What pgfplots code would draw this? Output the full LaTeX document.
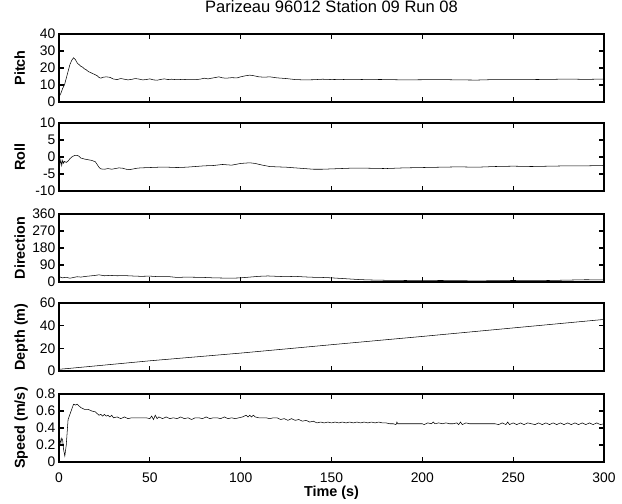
\documentclass[border=0pt]{standalone}
\usepackage{pgfplots}
\pgfplotsset{compat=1.18}
\usepackage{fontspec}
\setmainfont{Liberation Sans}

% one panel of the stack, MATLAB look
\pgfplotsset{
  panel/.style={
    scale only axis,
    width=408.75pt, height=51pt,
    anchor=south west,
    xmin=0, xmax=300,
    enlargelimits=false,
    xtick={0,50,100,150,200,250,300},
    tick align=inside,
    major tick length=4pt,
    axis line style={line width=0.9pt},
    every tick/.style={black, line width=0.9pt},
    tick label style={font=\fontsize{10.4}{12}\selectfont},
    /pgf/number format/assume math mode=true,
    yticklabel style={anchor=east, inner sep=0pt, xshift=-2.5pt},
    xticklabel style={anchor=base, yshift=-15pt},
    ylabel style={at={(axis description cs:-0.0624,0.5)}, anchor=base,
      font=\bfseries\fontsize{10.8}{12}\selectfont},
    xlabel style={at={(axis description cs:0.5,0)}, anchor=base, yshift=-26pt,
      font=\bfseries\fontsize{10.8}{12}\selectfont},
    cycle list={{black, line width=0.75pt, no markers}},
  },
  nox/.style={xticklabels={}},
}

\begin{document}
\begin{tikzpicture}
\useasboundingbox (0,0) rectangle (466.5pt,378pt);

% Pitch
\begin{axis}[panel, nox, at={(44.25pt,301.5pt)},
  ymin=0, ymax=40, ytick={0,10,20,30,40}, ylabel={Pitch},
  title={Parizeau 96012 Station 09 Run 08},
  title style={at={(axis description cs:0.5,1)}, anchor=base, yshift=10pt,
    font=\fontsize{12.4}{14}\selectfont}]
\addplot coordinates {
(0,3) (1,5) (2,8) (3,10) (4,14) (5,18) (6,22) (7,24.5) (8,26) (9,25) (10,23)
(11,22) (12,21) (13,20.5) (14,19.5) (15,19) (16,18) (17,17.5) (18,17) (19,16.5)
(20,16) (21,15.5) (22,14.5) (23,14) (24,14.5) (26,14.8) (28,14.5) (30,13.5)
(32,13.2) (34,13.8) (36,13.4) (38,13) (40,13.3) (42,13.8) (44,13.5) (46,13)
(48,13.2) (50,13.6) (52,13) (54,12.8) (56,13.3) (58,13.6) (60,13.2) (62,13.4)
(65,13.1) (68,13.3) (70,13.2) (75,13.1) (78,13.5) (80,14) (82,13.6) (85,14.2)
(88,14.8) (90,14.2) (92,14) (95,14.3) (98,14.2) (100,14.8) (103,15.5) (105,15.8)
(107,15.5) (110,14.8) (113,14.6) (116,14.8) (120,14.2) (125,13.8) (130,13.2)
(135,13) (140,13.1) (145,13.4) (150,13.2) (155,13.3) (160,13.1) (170,13.3)
(180,13.2) (190,13) (200,13.1) (210,13.2) (220,13) (230,12.9) (240,13.2)
(250,13.1) (260,13.2) (270,13.3) (280,13.5) (290,13.3) (300,13.5)
};
\end{axis}

% Roll
\begin{axis}[panel, nox, at={(44.25pt,234.75pt)},
  ymin=-10, ymax=10, ytick={-10,-5,0,5,10}, ylabel={Roll}]
\addplot coordinates {
(0,-1) (0.5,-2.2) (1,-0.8) (1.5,-2.5) (2,-1) (2.5,-1.8) (3,-1.3) (4,-1.6)
(5,-1.2) (6,-0.5) (7,0) (8,0.3) (9,0.5) (10,0.5) (11,0.2) (12,-0.3) (14,-0.6)
(16,-0.8) (18,-1) (20,-1.4) (21,-2.2) (22,-3) (23,-3.5) (25,-3.6) (27,-3.4)
(29,-3.6) (31,-3.4) (33,-3.2) (35,-3.3) (37,-3.6) (39,-3.7) (41,-3.5) (43,-3.3)
(45,-3.2) (50,-3.1) (55,-3.0) (60,-3.0) (65,-3.1) (70,-3.0) (75,-2.8) (80,-2.6)
(85,-2.5) (90,-2.2) (95,-2.4) (100,-1.9) (105,-1.7) (108,-1.9) (112,-2.4)
(116,-2.8) (120,-2.9) (125,-3.0) (130,-3.2) (135,-3.4) (140,-3.6) (145,-3.6)
(150,-3.5) (160,-3.3) (170,-3.3) (180,-3.4) (190,-3.2) (200,-3.1) (210,-3.0)
(220,-2.9) (230,-3.0) (240,-2.8) (250,-2.7) (260,-2.8) (270,-2.7) (280,-2.6)
(290,-2.6) (300,-2.5)
};
\end{axis}

% Direction
\begin{axis}[panel, nox, at={(44.25pt,166.5pt)},
  ymin=0, ymax=360, ytick={0,90,180,270,360}, ylabel={Direction}]
\addplot coordinates {
(0,28) (2,22) (4,25) (6,20) (8,24) (10,28) (12,26) (15,30) (18,33) (20,35)
(22,38) (25,33) (28,35) (32,33) (36,34) (40,32) (45,30) (50,31) (55,28) (60,29)
(65,24) (70,26) (75,25) (80,24) (85,22) (90,21) (95,20) (100,22) (105,26)
(110,30) (115,32) (120,30) (125,28) (130,30) (135,27) (140,25) (145,24)
(150,22) (155,19) (160,16) (165,13) (170,11) (175,10) (180,9) (190,8) (200,7)
(210,8) (220,7) (230,6) (240,7) (250,8) (260,7) (270,8) (280,10) (290,12)
(300,11)
};
\end{axis}

% Depth
\begin{axis}[panel, nox, at={(44.25pt,99.75pt)},
  ymin=0, ymax=60, ytick={0,20,40,60}, ylabel={Depth (m)}]
\addplot coordinates {
(0,1.5) (2,1.8) (5,2.2) (50,9) (100,15.8) (150,23.2) (200,30.5) (250,38) (300,45.5)
};
\end{axis}

% Speed
\begin{axis}[panel, at={(44.25pt,31.5pt)},
  ymin=0, ymax=0.8, ytick={0,0.2,0.4,0.6,0.8}, ylabel={Speed (m/s)},
  xlabel={Time (s)}]
\addplot coordinates {
(0,0.24) (0.5,0.27) (1,0.22) (1.5,0.28) (2,0.26) (2.5,0.15) (3.2,0.07) (4,0.2)
(5,0.5) (6,0.56) (7,0.62) (8,0.68) (9,0.67) (10,0.68) (11,0.66) (12,0.64)
(13,0.63) (14,0.62) (16,0.62) (18,0.6) (20,0.59) (21,0.57) (22,0.55) (23,0.56)
(24,0.54) (25,0.56) (26,0.54) (27,0.55) (28,0.53) (29,0.55) (30,0.52) (32,0.53)
(34,0.51) (36,0.53) (38,0.51) (40,0.52) (42,0.52) (44,0.52) (46,0.52) (48,0.52)
(50,0.51) (51,0.54) (52,0.5) (53,0.55) (54,0.51) (55,0.53) (57,0.51) (59,0.53)
(61,0.51) (63,0.52) (65,0.51) (67,0.53) (69,0.51) (71,0.52) (73,0.5) (75,0.52)
(77,0.52) (79,0.51) (81,0.53) (83,0.51) (85,0.52) (87,0.52) (89,0.51) (91,0.53)
(93,0.51) (95,0.52) (97,0.51) (99,0.52) (101,0.53) (103,0.55) (104,0.53)
(105,0.55) (106,0.53) (107,0.55) (108,0.53) (110,0.52) (112,0.52) (114,0.52)
(116,0.51) (118,0.52) (120,0.52) (122,0.5) (124,0.51) (126,0.49) (128,0.51)
(130,0.49) (132,0.5) (134,0.48) (136,0.49) (138,0.47) (140,0.48) (142,0.46)
(144,0.47) (146,0.46) (148,0.47) (150,0.46) (152,0.47) (154,0.46) (156,0.47)
(158,0.46) (160,0.47) (162,0.46) (164,0.47) (166,0.46) (168,0.47) (170,0.46)
(172,0.47) (174,0.46) (176,0.47) (178,0.46) (180,0.46) (182,0.45) (184,0.45)
(185.5,0.44) (186,0.47) (186.5,0.45) (190,0.45) (195,0.45) (200,0.45)
(201,0.44) (203,0.46) (205,0.45) (206,0.47) (207,0.45) (209,0.46) (211,0.45)
(213,0.46) (215,0.45) (217,0.45) (219,0.46) (220,0.44) (221,0.47) (222,0.44)
(224,0.46) (226,0.45) (228,0.45) (230,0.45) (232,0.45) (235,0.45) (238,0.45)
(240,0.45) (242,0.44) (244,0.46) (246,0.44) (247,0.47) (248,0.44) (250,0.46)
(252,0.44) (254,0.46) (256,0.44) (258,0.46) (260,0.45) (262,0.44) (264,0.46)
(266,0.44) (268,0.46) (270,0.44) (272,0.46) (274,0.44) (276,0.46) (278,0.44)
(280,0.46) (282,0.44) (284,0.46) (286,0.44) (288,0.46) (290,0.44) (292,0.46)
(294,0.44) (296,0.46) (298,0.44) (300,0.45)
};
\end{axis}
\end{tikzpicture}
\end{document}
